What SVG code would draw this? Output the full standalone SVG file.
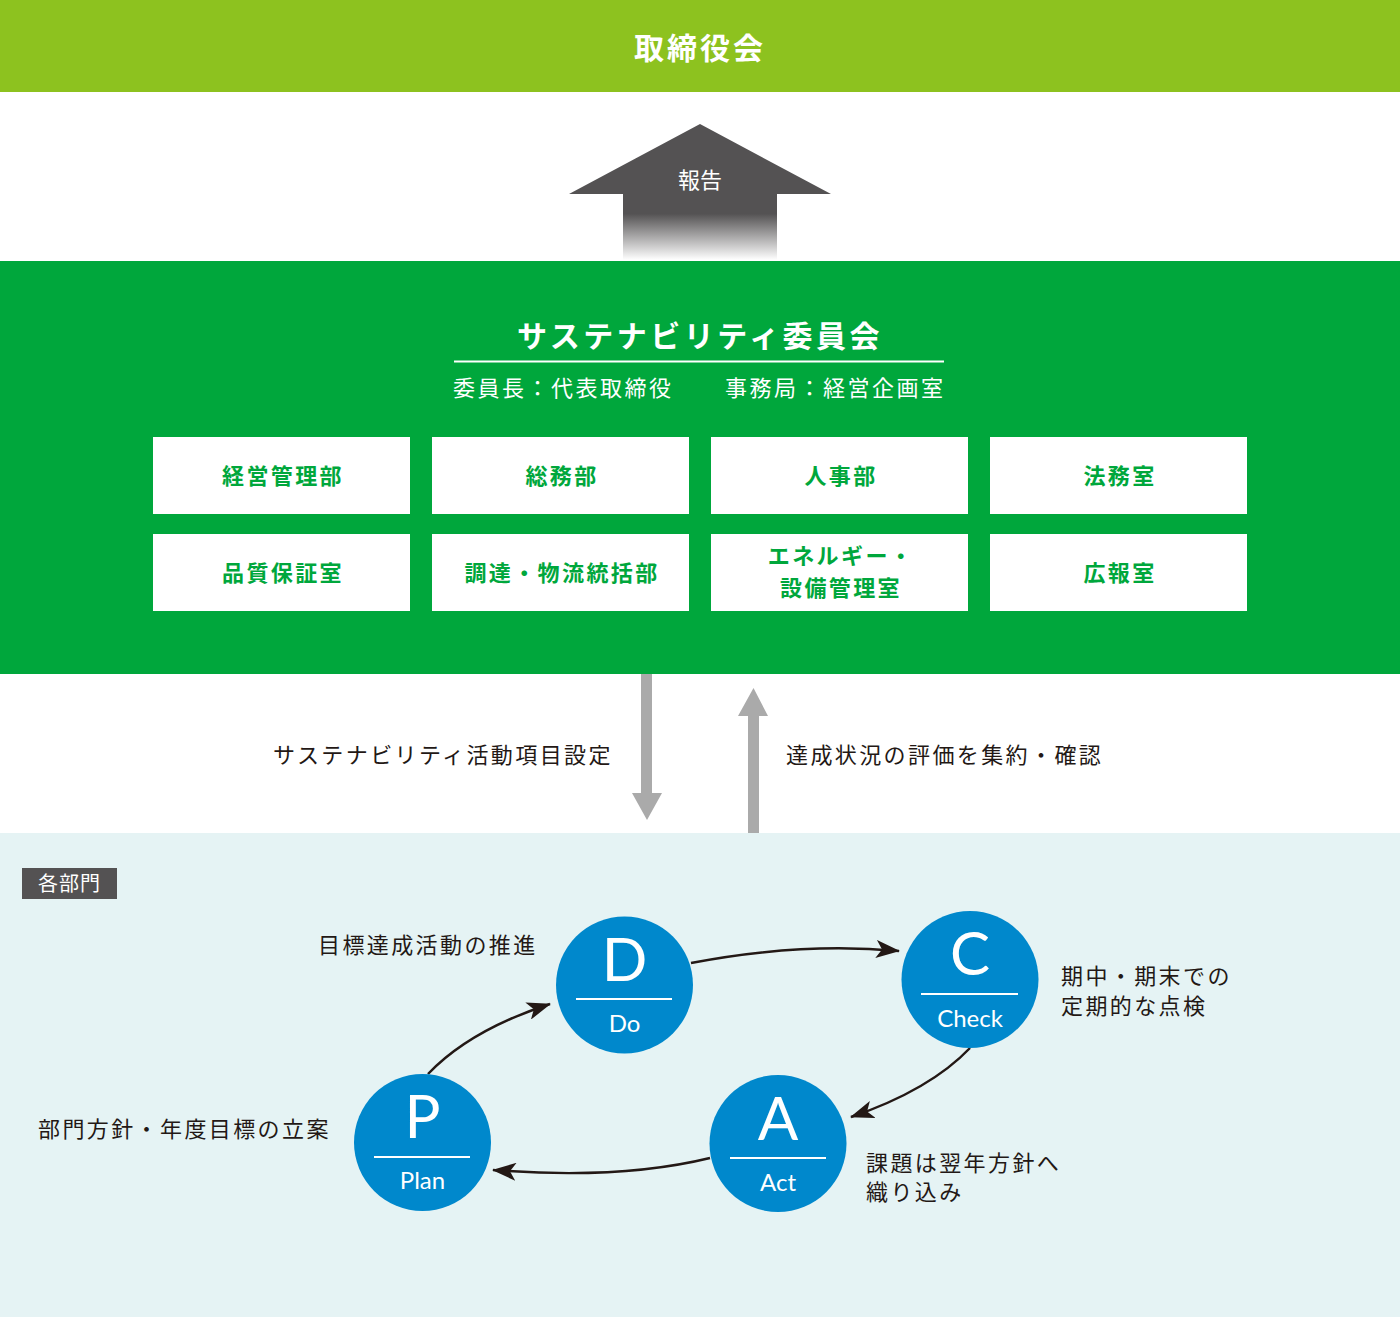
<svg xmlns="http://www.w3.org/2000/svg" width="1400" height="1319" viewBox="0 0 1400 1319">
<defs>
<linearGradient id="fade" x1="0" y1="124" x2="0" y2="260" gradientUnits="userSpaceOnUse">
<stop offset="0" stop-color="#545253"/>
<stop offset="0.66" stop-color="#545253"/>
<stop offset="1" stop-color="#ffffff"/>
</linearGradient>
<marker id="ah" viewBox="0 0 24 18" refX="23" refY="9" markerWidth="24" markerHeight="18" markerUnits="userSpaceOnUse" orient="auto">
<path d="M0,0 L24,9 L0,18 L6,9 Z" fill="#231815"/>
</marker>
<style>
.jp{font-family:"Noto Sans CJK JP","Noto Sans",sans-serif;}
.lbl{font-size:22px;fill:#231815;letter-spacing:2.4px;}
.dept{font-size:22px;font-weight:bold;fill:#00a73c;letter-spacing:2.4px;text-anchor:middle;}
.box{fill:#ffffff;}
.circ{fill:#0088cc;}
.big{font-family:Lato,"Noto Sans",sans-serif;font-weight:400;font-size:60px;fill:#ffffff;text-anchor:middle;}
.sub{font-family:Lato,"Noto Sans",sans-serif;font-weight:400;font-size:24px;fill:#ffffff;text-anchor:middle;}
.wl{stroke:#ffffff;stroke-width:2;}
.con{fill:none;stroke:#231815;stroke-width:2.5;marker-end:url(#ah);}
</style>
</defs>

<g id="board">
<rect x="0" y="0" width="1400" height="92" fill="#8dc21f"/>
<text class="jp" x="700" y="59" font-size="30" font-weight="bold" fill="#ffffff" text-anchor="middle" letter-spacing="3">取締役会</text>
</g>

<g id="report-arrow">
<path d="M700,124 L831,194 L777,194 L777,260 L623,260 L623,194 L569,194 Z" fill="url(#fade)"/>
<text class="jp" x="700" y="188" font-size="22" fill="#ffffff" text-anchor="middle">報告</text>
</g>

<g id="committee">
<rect x="0" y="261" width="1400" height="413" fill="#00a73c"/>
<text class="jp" x="700" y="347" font-size="30" font-weight="bold" fill="#ffffff" text-anchor="middle" letter-spacing="3.5">サステナビリティ委員会</text>
<line x1="454" y1="361.5" x2="944" y2="361.5" stroke="#ffffff" stroke-width="2"/>
<text class="jp" x="453" y="396" font-size="22" fill="#ffffff" letter-spacing="2.5">委員長：代表取締役</text>
<text class="jp" x="725" y="396" font-size="22" fill="#ffffff" letter-spacing="2.5">事務局：経営企画室</text>
</g>

<g id="dept-1"><rect class="box" x="153" y="437" width="257" height="77"/><text class="jp dept" x="283" y="484">経営管理部</text></g>
<g id="dept-2"><rect class="box" x="432" y="437" width="257" height="77"/><text class="jp dept" x="562" y="484">総務部</text></g>
<g id="dept-3"><rect class="box" x="711" y="437" width="257" height="77"/><text class="jp dept" x="841" y="484">人事部</text></g>
<g id="dept-4"><rect class="box" x="990" y="437" width="257" height="77"/><text class="jp dept" x="1120" y="484">法務室</text></g>
<g id="dept-5"><rect class="box" x="153" y="534" width="257" height="77"/><text class="jp dept" x="283" y="581">品質保証室</text></g>
<g id="dept-6"><rect class="box" x="432" y="534" width="257" height="77"/><text class="jp dept" x="562" y="581">調達・物流統括部</text></g>
<g id="dept-7"><rect class="box" x="711" y="534" width="257" height="77"/><text class="jp dept" x="841" y="564">エネルギー・</text><text class="jp dept" x="841" y="596">設備管理室</text></g>
<g id="dept-8"><rect class="box" x="990" y="534" width="257" height="77"/><text class="jp dept" x="1120" y="581">広報室</text></g>

<g id="flow-arrows">
<path d="M641,674 L652,674 L652,793 L662,793 L647,820 L632,793 L641,793 Z" fill="#aaaaaa"/>
<path d="M748,833 L759,833 L759,716 L768,716 L753.5,688 L738,716 L748,716 Z" fill="#aaaaaa"/>
<text class="jp lbl" x="273" y="763">サステナビリティ活動項目設定</text>
<text class="jp lbl" x="786" y="763">達成状況の評価を集約・確認</text>
</g>

<g id="departments">
<rect x="0" y="833" width="1400" height="484" fill="#e5f3f4"/>
<rect x="22" y="868" width="95" height="31" fill="#545253"/>
<text class="jp" x="69.5" y="891" font-size="20" fill="#ffffff" text-anchor="middle" letter-spacing="1">各部門</text>
</g>

<g id="connectors">
<path class="con" d="M691,963 Q800,942 899,951"/>
<path class="con" d="M970,1048 Q930,1090 851,1117"/>
<path class="con" d="M710,1158 Q620,1180 493,1170"/>
<path class="con" d="M428,1074 Q470,1030 550,1004"/>
</g>

<g id="node-do">
<circle class="circ" cx="624.5" cy="985" r="68.5"/>
<text class="big" x="624.5" y="981">D</text>
<line class="wl" x1="576" y1="999" x2="672" y2="999"/>
<text class="sub" x="624.5" y="1032">Do</text>
</g>
<g id="node-check">
<circle class="circ" cx="970" cy="979.5" r="68.5"/>
<text class="big" x="970" y="975">C</text>
<line class="wl" x1="921" y1="994" x2="1018" y2="994"/>
<text class="sub" x="970" y="1027">Check</text>
</g>
<g id="node-plan">
<circle class="circ" cx="422.5" cy="1142.5" r="68.5"/>
<text class="big" x="422.5" y="1138">P</text>
<line class="wl" x1="374" y1="1157" x2="470" y2="1157"/>
<text class="sub" x="422.5" y="1189">Plan</text>
</g>
<g id="node-act">
<circle class="circ" cx="778" cy="1143.5" r="68.5"/>
<text class="big" x="778" y="1140">A</text>
<line class="wl" x1="730" y1="1158" x2="826" y2="1158"/>
<text class="sub" x="778" y="1191">Act</text>
</g>

<g id="labels">
<text class="jp lbl" x="318" y="953">目標達成活動の推進</text>
<text class="jp lbl" x="1061" y="984">期中・期末での</text>
<text class="jp lbl" x="1061" y="1014">定期的な点検</text>
<text class="jp lbl" x="38" y="1137">部門方針・年度目標の立案</text>
<text class="jp lbl" x="866" y="1171">課題は翌年方針へ</text>
<text class="jp lbl" x="866" y="1200">織り込み</text>
</g>
</svg>
